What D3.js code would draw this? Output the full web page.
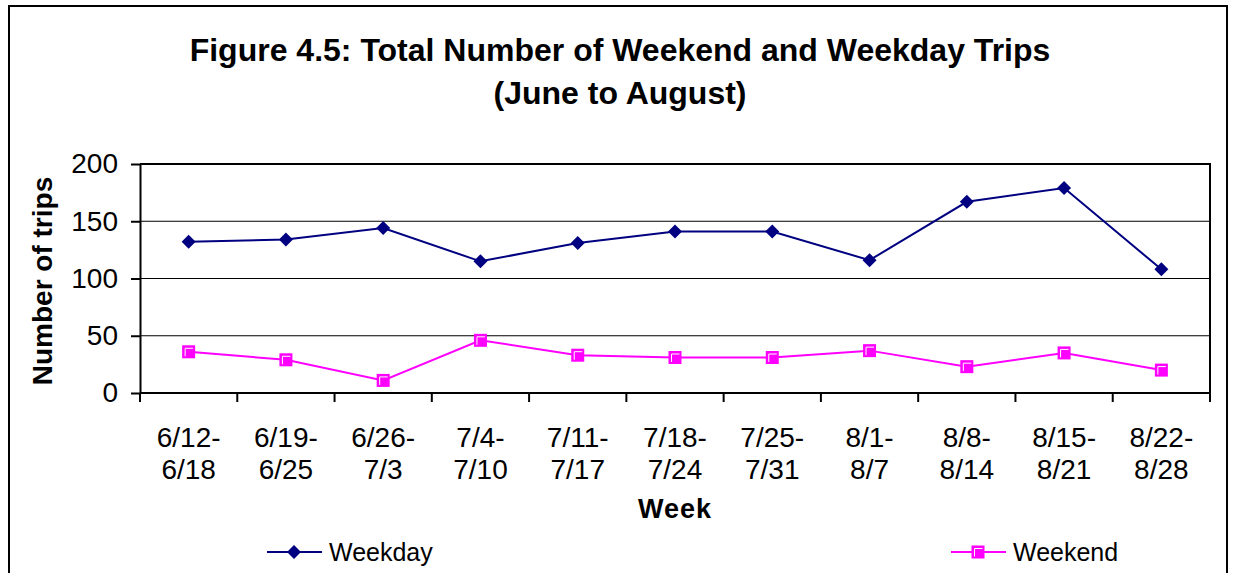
<!DOCTYPE html>
<html>
<head>
<meta charset="utf-8">
<script src="https://cdn.jsdelivr.net/npm/d3@7"></script>
<style>
    body { margin: 0; background: #fff; }
    svg { display: block; font-family: "Liberation Sans", Arial, sans-serif; }
</style>
</head>
<body>
<div id="chart"></div>
<script>
// Data
const weeks = [
    ['6/12-', '6/18'], ['6/19-', '6/25'], ['6/26-', '7/3'], ['7/4-', '7/10'],
    ['7/11-', '7/17'], ['7/18-', '7/24'], ['7/25-', '7/31'], ['8/1-', '8/7'],
    ['8/8-', '8/14'], ['8/15-', '8/21'], ['8/22-', '8/28']
];
const weekday = [132, 134, 144, 115, 131, 141, 141, 116, 167, 179, 108];
const weekend = [36, 29, 11, 46, 33, 31, 31, 37, 23, 35, 20];
const yTicks = [0, 50, 100, 150, 200];

const W = 1233, H = 573;
const margin = { top: 164, right: 23, bottom: 180, left: 140 };
const width = W - margin.left - margin.right;
const height = H - margin.top - margin.bottom;
const FONT = '"Liberation Sans", Arial, sans-serif';

const svg = d3.select('#chart').append('svg')
    .attr('width', W)
    .attr('height', H);

// Outer frame
svg.append('rect')
    .attr('x', 9).attr('y', 6)
    .attr('width', 1218).attr('height', 600)
    .attr('fill', 'none')
    .attr('stroke', '#000')
    .attr('stroke-width', 2);

// Title
const title = svg.append('text')
    .attr('text-anchor', 'middle')
    .attr('font-weight', 'bold')
    .attr('font-size', 32)
    .attr('fill', '#000');
title.append('tspan').attr('x', 620).attr('y', 61).text('Figure 4.5: Total Number of Weekend and Weekday Trips');
title.append('tspan').attr('x', 620).attr('y', 104).text('(June to August)');

const g = svg.append('g').attr('transform', `translate(${margin.left},${margin.top})`);

// Scales
const x = d3.scaleBand()
    .domain(d3.range(weeks.length))
    .range([0, width]);

const y = d3.scaleLinear()
    .domain([0, 200])
    .range([height, 0]);

// Gridlines
g.selectAll('.grid')
    .data(yTicks.filter(d => d > 0 && d < 200))
    .enter().append('line')
    .attr('class', 'grid')
    .attr('x1', 0).attr('x2', width)
    .attr('y1', d => y(d)).attr('y2', d => y(d))
    .attr('stroke', '#000')
    .attr('stroke-width', 1);

// Plot border (top and right)
g.append('path')
    .attr('d', `M0,${y(200)}H${width}V${height}`)
    .attr('fill', 'none')
    .attr('stroke', '#000')
    .attr('stroke-width', 2);

// Y axis
const yAxisG = g.append('g')
    .call(d3.axisLeft(y).tickValues(yTicks).tickSize(9).tickPadding(13).tickSizeOuter(0));
yAxisG.selectAll('text').attr('font-size', 28).attr('font-family', FONT).attr('fill', '#000');
yAxisG.select('.domain').attr('stroke-width', 2);
yAxisG.selectAll('.tick line').attr('stroke-width', 2);

// X axis: ticks between categories
const boundaries = d3.range(weeks.length + 1).map(i => i * x.bandwidth());
const xAxisG = g.append('g').attr('transform', `translate(0,${height})`);
xAxisG.append('line')
    .attr('x1', 0).attr('x2', width)
    .attr('stroke', '#000').attr('stroke-width', 2);
xAxisG.selectAll('.tick')
    .data(boundaries)
    .enter().append('line')
    .attr('x1', d => d).attr('x2', d => d)
    .attr('y1', 0).attr('y2', 9)
    .attr('stroke', '#000').attr('stroke-width', 2);

const xLabels = xAxisG.selectAll('.xlabel')
    .data(weeks)
    .enter().append('text')
    .attr('text-anchor', 'middle')
    .attr('font-size', 28)
    .attr('fill', '#000');
xLabels.append('tspan')
    .attr('x', (d, i) => x(i) + x.bandwidth() / 2)
    .attr('y', 54)
    .text(d => d[0]);
xLabels.append('tspan')
    .attr('x', (d, i) => x(i) + x.bandwidth() / 2)
    .attr('y', 86)
    .text(d => d[1]);

// Axis titles
svg.append('text')
    .attr('transform', 'translate(52,281) rotate(-90)')
    .attr('text-anchor', 'middle')
    .attr('font-weight', 'bold')
    .attr('font-size', 28)
    .text('Number of trips');

svg.append('text')
    .attr('x', 675).attr('y', 518)
    .attr('text-anchor', 'middle')
    .attr('font-weight', 'bold')
    .attr('font-size', 27)
    .attr('letter-spacing', 1)
    .text('Week');

// Lines
const line = d3.line()
    .x((d, i) => x(i) + x.bandwidth() / 2)
    .y(d => y(d));

const NAVY = '#000080', MAGENTA = '#ff00ff';

g.append('path')
    .datum(weekday)
    .attr('d', line)
    .attr('fill', 'none')
    .attr('stroke', NAVY)
    .attr('stroke-width', 2);

g.append('path')
    .datum(weekend)
    .attr('d', line)
    .attr('fill', 'none')
    .attr('stroke', MAGENTA)
    .attr('stroke-width', 2);

function diamond(sel) {
    sel.append('path')
        .attr('d', 'M0,-7L7,0L0,7L-7,0Z')
        .attr('fill', NAVY);
}
function square(sel) {
    sel.append('rect')
        .attr('x', -6.5).attr('y', -6.5).attr('width', 13).attr('height', 13)
        .attr('fill', MAGENTA);
    sel.append('path')
        .attr('d', 'M-3.5,4.5V-3.5H4.5')
        .attr('fill', 'none')
        .attr('stroke', '#fff')
        .attr('stroke-width', 1);
}

g.selectAll('.wd')
    .data(weekday)
    .enter().append('g')
    .attr('transform', (d, i) => `translate(${x(i) + x.bandwidth() / 2},${y(d)})`)
    .call(diamond);

g.selectAll('.we')
    .data(weekend)
    .enter().append('g')
    .attr('transform', (d, i) => `translate(${x(i) + x.bandwidth() / 2},${y(d)})`)
    .call(square);

// Legend
const legend = [
    { name: 'Weekday', color: NAVY, marker: diamond, x: 267 },
    { name: 'Weekend', color: MAGENTA, marker: square, x: 951 }
];
legend.forEach(l => {
    const lg = svg.append('g').attr('transform', `translate(${l.x},552)`);
    lg.append('line')
        .attr('x1', 0).attr('x2', 55)
        .attr('stroke', l.color).attr('stroke-width', 2);
    lg.append('g').attr('transform', 'translate(27,0)').call(l.marker);
    lg.append('text')
        .attr('x', 62).attr('y', 9)
        .attr('font-size', 25)
        .text(l.name);
});
</script>
</body>
</html>
